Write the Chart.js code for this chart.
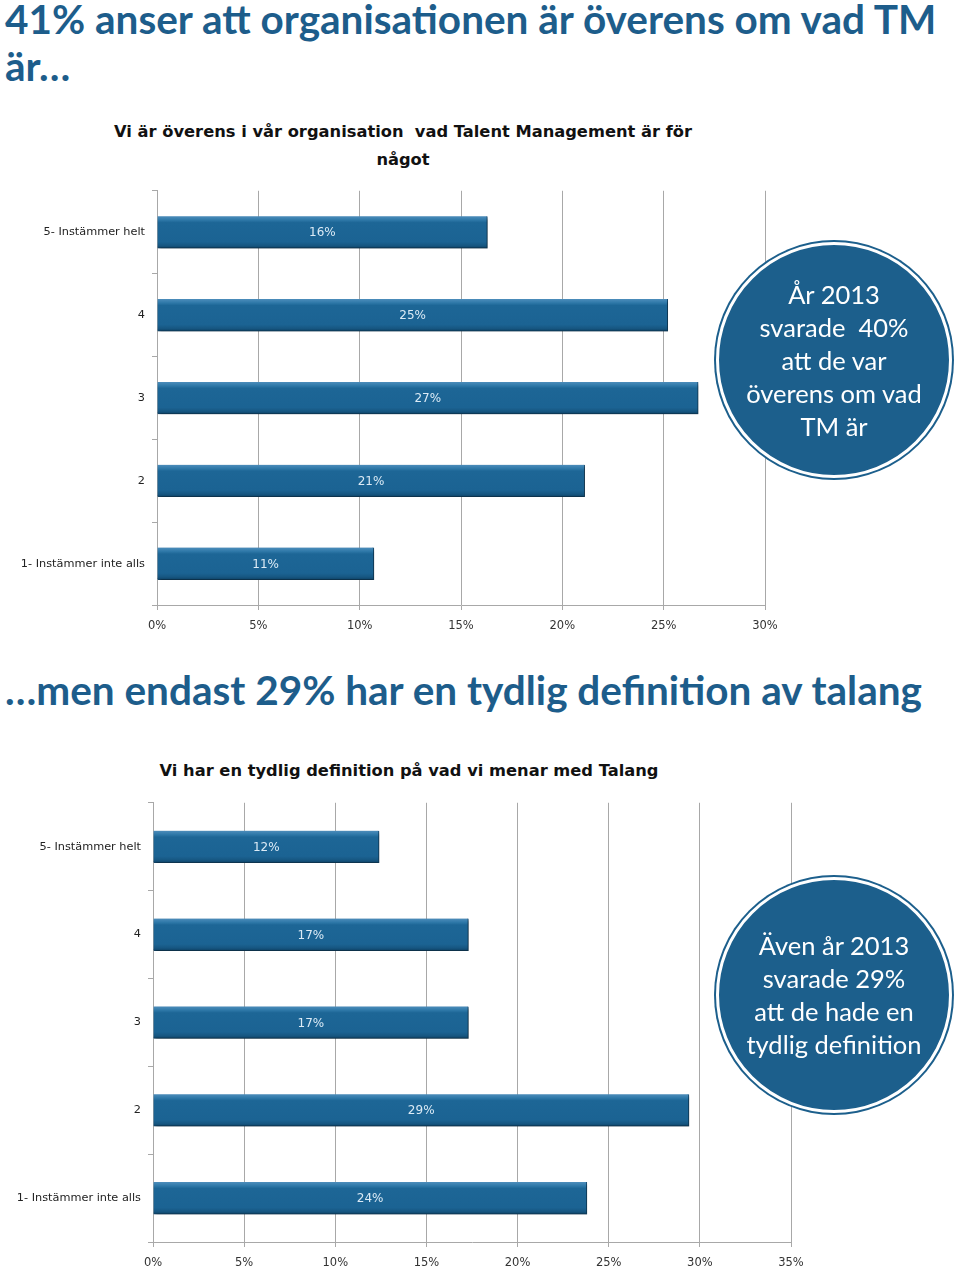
<!DOCTYPE html>
<html><head><meta charset="utf-8">
<script src="https://cdn.jsdelivr.net/npm/chart.js@4/dist/chart.umd.min.js"></script>
<style>
html,body{margin:0;padding:0;background:#fff;width:960px;height:1270px;overflow:hidden;}
.h{position:absolute;left:5px;font-family:Lato,"Open Sans",sans-serif;font-weight:bold;font-size:40.5px;color:#1d5d8b;line-height:47px;margin:0;white-space:nowrap;}
.ct{position:absolute;font-family:"DejaVu Sans",sans-serif;font-weight:bold;font-size:16.3px;color:#111;text-align:center;line-height:28px;white-space:nowrap;}
.wrap{position:absolute;left:0;}
.circ{position:absolute;width:230px;height:230px;border-radius:50%;background:#1c5f8c;border:3px solid #fff;box-shadow:0 0 0 2px #1c5f8c;color:#fff;font-family:Lato,"Open Sans",sans-serif;font-size:25.5px;line-height:33px;text-align:center;display:flex;align-items:center;justify-content:center;}
</style></head><body>
<div class="h" style="top:-5px">41% anser att organisationen är överens om vad TM<br>är…</div>
<div class="ct" style="left:0;width:806px;top:118px">Vi är överens i vår organisation&nbsp; vad Talent Management är för<br>något</div>
<div class="wrap" style="top:177px;width:800px;height:463px"><canvas id="c1"></canvas></div>
<div class="circ" style="left:716px;top:242px"><div>År 2013<br>svarade&nbsp; 40%<br>att de var<br>överens om vad<br>TM är</div></div>

<div class="h" style="top:666px">…men endast 29% har en tydlig definition av talang</div>
<div class="ct" style="left:0;width:818px;top:757px">Vi har en tydlig definition på vad vi menar med Talang</div>
<div class="wrap" style="top:789px;width:830px;height:481px"><canvas id="c2"></canvas></div>
<div class="circ" style="left:716px;top:877px"><div>Även år 2013<br>svarade 29%<br>att de hade en<br>tydlig definition</div></div>

<script>
const categories = ["5- Instämmer helt", "4", "3", "2", "1- Instämmer inte alls"];
const valuesTM = [16.3, 25.2, 26.7, 21.1, 10.7];
const labelsTM = ["16%", "25%", "27%", "21%", "11%"];
const valuesTalang = [12.4, 17.3, 17.3, 29.4, 23.8];
const labelsTalang = ["12%", "17%", "17%", "29%", "24%"];
const ticksTM = [0, 5, 10, 15, 20, 25, 30];
const ticksTalang = [0, 5, 10, 15, 20, 25, 30, 35];

function barFill(ctx){
  const chart = ctx.chart;
  const ys = chart.scales.y;
  if(!ys || ctx.dataIndex === undefined) return '#1b6494';
  const yc = ys.getPixelForValue(ctx.dataIndex);
  if(!isFinite(yc)) return '#1b6494';
  const g = chart.ctx.createLinearGradient(0, yc-16, 0, yc+16);
  g.addColorStop(0, '#4d8dbb');
  g.addColorStop(0.12, '#2e78a8');
  g.addColorStop(0.2, '#1d6696');
  g.addColorStop(0.8, '#1b6393');
  g.addColorStop(0.92, '#165681');
  g.addColorStop(1, '#0e4367');
  return g;
}

const shadowPlugin = {
  id:'shadow',
  beforeDatasetsDraw(chart){
    const c=chart.ctx; c.save();
    c.shadowColor='rgba(0,0,0,0.4)'; c.shadowBlur=3; c.shadowOffsetX=2; c.shadowOffsetY=2;
  },
  afterDatasetsDraw(chart){
    chart.ctx.restore();
    const c=chart.ctx; const meta=chart.getDatasetMeta(0);
    const labels=chart.options.plugins.barLabels.labels;
    c.save();
    c.font='12px "DejaVu Sans", sans-serif';
    c.fillStyle='#dcebf6'; c.textAlign='center'; c.textBaseline='middle';
    meta.data.forEach((el,i)=>{
      c.fillText(labels[i], (el.base+el.x)/2, el.y+1);
    });
    c.restore();
  }
};

function makeChart(id, values, labels, ticks, yWidth, padTop, padRight, xH){
  const maxV = ticks[ticks.length-1];
  return new Chart(document.getElementById(id), {
    type:'bar',
    data:{labels:categories, datasets:[{data:values, backgroundColor:barFill, borderColor:'#12496f', borderWidth:{top:0,left:0,right:1,bottom:1}, borderSkipped:false, barThickness:32}]},
    plugins:[shadowPlugin],
    options:{
      indexAxis:'y', responsive:true, maintainAspectRatio:false, animation:false,
      layout:{padding:{top:padTop, right:padRight, left:0, bottom:0}},
      plugins:{legend:{display:false}, tooltip:{enabled:false}, barLabels:{labels:labels}},
      scales:{
        x:{min:0, max:maxV,
           afterBuildTicks(s){ s.ticks = ticks.map(v=>({value:v})); },
           afterFit(s){ s.height = xH; },
           grid:{color:'#a8a8a8', lineWidth:1, tickLength:5, drawTicks:true},
           border:{display:true, color:'#a8a8a8'},
           ticks:{color:'#333', font:{family:'"DejaVu Sans", sans-serif', size:11.5}, padding:9, callback:v=>v+'%'}
        },
        y:{
           afterFit(s){ s.width = yWidth; },
           grid:{drawOnChartArea:false, color:'#a8a8a8', tickLength:5, offset:true},
           border:{display:true, color:'#a8a8a8'},
           ticks:{color:'#222', font:{family:'"DejaVu Sans", sans-serif', size:11.3}, padding:7}
        }
      }
    }
  });
}

makeChart('c1', valuesTM, labelsTM, ticksTM, 157, 0, 35, 35);
makeChart('c2', valuesTalang, labelsTalang, ticksTalang, 153, 0, 39, 28);
</script>
</body></html>
